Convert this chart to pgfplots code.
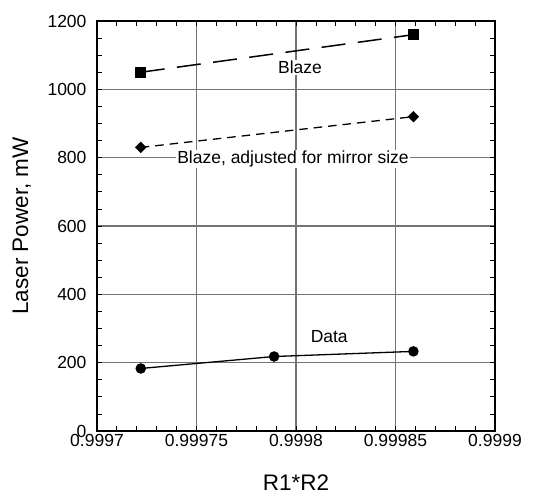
\documentclass[border=0pt]{standalone}
\usepackage{fontspec}
\setmainfont{Liberation Sans}
\usepackage{pgfplots}
\pgfplotsset{compat=1.18}
\begin{document}
\begin{tikzpicture}
\path[use as bounding box] (0,0) rectangle (541pt,493pt);
% x values are (R1*R2 - 0.9997) * 1e5
\begin{axis}[
  at={(97pt,62pt)}, anchor=south west,
  scale only axis, width=398pt, height=410pt,
  xmin=0, xmax=20, ymin=0, ymax=1200,
  xtick={0,5,10,15,20},
  xticklabels={0.9997,0.99975,0.9998,0.99985,0.9999},
  ytick={0,200,400,600,800,1000,1200},
  minor x tick num=4, minor y tick num=3,
  tick pos=both, tick align=inside,
  major tick length=5pt, minor tick length=5pt,
  every tick/.style={black, line width=0.8pt},
  axis line style={black, line width=1.2pt},
  grid=major,
  major grid style={black!55, line width=1.2pt},
  /pgf/number format/assume math mode=true,
  /pgf/number format/1000 sep={},
  tick label style={font=\fontsize{17.5}{21}\selectfont},
  yticklabel style={xshift=-7pt},
  xlabel={R1*R2},
  ylabel={Laser Power, mW},
  label style={font=\fontsize{22.5}{26}\selectfont},
  xlabel style={at={(axis description cs:0.5,-0.1463)}, anchor=base},
  ylabel style={at={(axis description cs:-0.173,0.5)}, anchor=base, rotate=0},
]
\addplot[black, line width=1.5pt, dash pattern=on 24pt off 12.5pt,
  mark=square*, mark size=4.6pt, mark options={solid}]
  coordinates {(2.2,1050) (15.9,1160)};
\addplot[black, line width=1.3pt, dash pattern=on 8.5pt off 6pt,
  mark=square*, mark size=3.4pt, mark options={solid, rotate=45}]
  coordinates {(2.2,830) (15.9,920)};
\addplot[black, line width=1.3pt,
  mark=*, mark size=4.6pt]
  coordinates {(2.2,183) (8.9,218) (15.9,233)};
\node[font=\fontsize{17.5}{21}\selectfont, anchor=base, fill=white, inner sep=1pt]
  at (axis cs:10.2,1045) {Blaze};
\node[font=\fontsize{17.5}{21}\selectfont, anchor=base, fill=white, inner sep=1pt]
  at (axis cs:9.85,783) {Blaze, adjusted for mirror size};
\node[font=\fontsize{17.5}{21}\selectfont, anchor=base, fill=white, inner sep=1pt]
  at (axis cs:11.67,260) {Data};
\end{axis}
\end{tikzpicture}
\end{document}
